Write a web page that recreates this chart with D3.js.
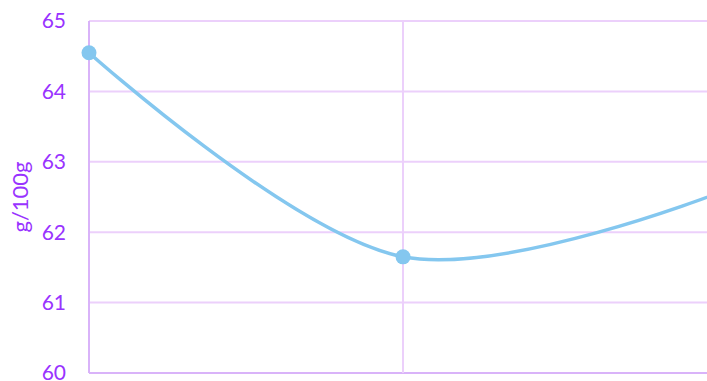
<!DOCTYPE html>
<html>
<head>
<meta charset="utf-8">
<script src="https://cdn.jsdelivr.net/npm/d3@7"></script>
<style>
  html, body { margin: 0; padding: 0; background: #fff; }
  svg { display: block; }
</style>
</head>
<body>
<svg id="chart" width="707" height="381"></svg>
<script>
// Series: three samples, the last one sits just past the right edge
const categories = ["A", "B", "C"];
const values = [64.55, 61.65, 62.55];
const yTicks = [60, 61, 62, 63, 64, 65];
const yLabel = "g/100g";

const svg = d3.select("#chart");
const margin = { left: 89, top: 21, bottom: 8 };
const H = 381;
const step = 314;

const x = d3.scalePoint()
  .domain(categories)
  .range([margin.left, margin.left + step * (categories.length - 1)]);

const y = d3.scaleLinear()
  .domain([60, 65])
  .range([H - margin.bottom, margin.top]);

const textColor = "#9933ff";
const gridColor = "#ecd0fb";
const axisColor = "#d9b3f9";
const lineColor = "#84c7ef";
const font = "Lato, 'Open Sans', sans-serif";

// horizontal grid lines
svg.append("g")
  .selectAll("line")
  .data(yTicks)
  .join("line")
  .attr("x1", margin.left)
  .attr("x2", 707)
  .attr("y1", d => y(d))
  .attr("y2", d => y(d))
  .attr("stroke", d => d === 60 ? axisColor : gridColor)
  .attr("stroke-width", 2);

// vertical grid lines at each category
svg.append("g")
  .selectAll("line")
  .data(categories)
  .join("line")
  .attr("x1", d => x(d))
  .attr("x2", d => x(d))
  .attr("y1", y(65))
  .attr("y2", y(60))
  .attr("stroke", (d, i) => i === 0 ? axisColor : gridColor)
  .attr("stroke-width", 2);

// y tick labels
svg.append("g")
  .selectAll("text")
  .data(yTicks)
  .join("text")
  .attr("x", 66)
  .attr("y", d => y(d))
  .attr("dy", "0.35em")
  .attr("text-anchor", "end")
  .attr("fill", textColor)
  .style("font-family", font)
  .style("font-size", "21px")
  .text(d => d);

// y axis title
svg.append("text")
  .attr("transform", `translate(28, ${(y(60) + y(65)) / 2}) rotate(-90)`)
  .attr("text-anchor", "middle")
  .attr("fill", textColor)
  .style("font-family", font)
  .style("font-size", "22px")
  .text(yLabel);

// smooth line
const line = d3.line()
  .x((d, i) => x(categories[i]))
  .y(d => y(d))
  .curve(d3.curveCatmullRom.alpha(0.5));

svg.append("path")
  .datum(values)
  .attr("d", line)
  .attr("fill", "none")
  .attr("stroke", lineColor)
  .attr("stroke-width", 3.5);

// markers
svg.append("g")
  .selectAll("circle")
  .data(values)
  .join("circle")
  .attr("cx", (d, i) => x(categories[i]))
  .attr("cy", d => y(d))
  .attr("r", 7.5)
  .attr("fill", lineColor);
</script>
</body>
</html>
